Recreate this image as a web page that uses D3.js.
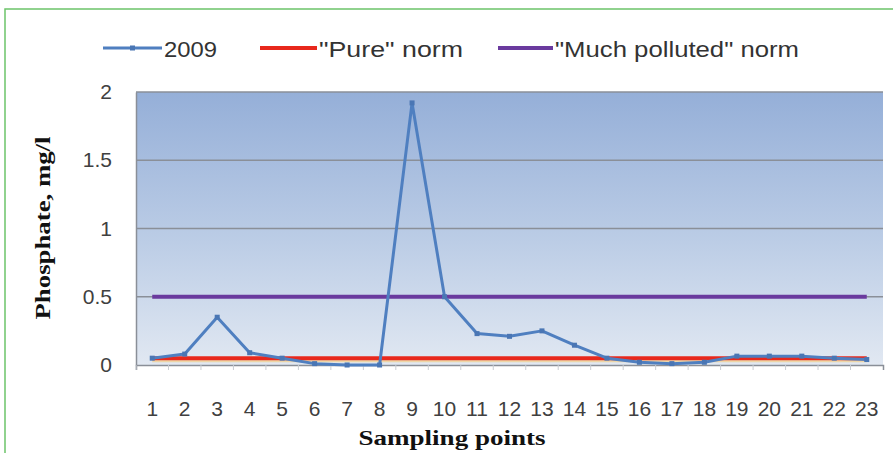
<!DOCTYPE html>
<html><head><meta charset="utf-8">
<script src="https://cdn.jsdelivr.net/npm/d3@7"></script>
<style>body{margin:0;background:#fff}svg{display:block}</style>
</head><body>
<svg id="c" width="893" height="453"></svg>
<script>
const categories = ["1","2","3","4","5","6","7","8","9","10","11","12","13","14","15","16","17","18","19","20","21","22","23"];
const values2009 = [0.05,0.08,0.35,0.09,0.05,0.01,0.0,0.0,1.92,0.5,0.23,0.21,0.25,0.145,0.05,0.02,0.01,0.02,0.065,0.065,0.065,0.05,0.04];
const pureNorm = 0.05;
const pollutedNorm = 0.5;
const yTicks = [0,0.5,1,1.5,2];
const yTickLabels = ["0","0.5","1","1.5","2"];
const seriesNames = ["2009","\"Pure\" norm","\"Much polluted\" norm"];
const seriesColors = ["#4f7fc0","#e8281c","#6a3a9e"];

const svg = d3.select("#c");
const L = 136, R = 883, T = 92, B = 365;
const x = d3.scaleBand().domain(categories).range([L,R]);
const y = d3.scaleLinear().domain([0,2]).range([B,T]);
const cx = c => x(c) + x.bandwidth()/2;
const sans = "'Liberation Sans',Arial,sans-serif";
const serif = "'Liberation Serif','DejaVu Serif',serif";

// outer green frame
svg.append("rect").attr("x",5).attr("y",9).attr("width",900).attr("height",460)
  .attr("fill","none").attr("stroke","#6cc46a").attr("stroke-width",1.5);

// gradient background
const defs = svg.append("defs");
const g = defs.append("linearGradient").attr("id","bg").attr("x1",0).attr("y1",0).attr("x2",0).attr("y2",1);
g.append("stop").attr("offset","0%").attr("stop-color","#95afd8");
g.append("stop").attr("offset","55%").attr("stop-color","#bccde6");
g.append("stop").attr("offset","100%").attr("stop-color","#e1e8f2");
svg.append("rect").attr("x",L).attr("y",T).attr("width",R-L).attr("height",B-T).attr("fill","url(#bg)");

// grid
svg.append("g").selectAll("line").data(yTicks.filter(d=>d>0)).join("line")
  .attr("x1",L).attr("x2",R).attr("y1",d=>y(d)).attr("y2",d=>y(d))
  .attr("stroke","#8a8f98").attr("stroke-width",1.3);

// axes
const ya = svg.append("g").attr("transform",`translate(${L},0)`)
  .call(d3.axisLeft(y).tickValues(yTicks).tickFormat((d,i)=>yTickLabels[i]).tickSize(0).tickPadding(24));
ya.select(".domain").attr("stroke","#8a8f98").attr("stroke-width",1.5);
ya.selectAll("text").attr("font-family",sans).attr("font-size",21).attr("fill","#404040");

const xa = svg.append("g").attr("transform",`translate(0,${B})`)
  .call(d3.axisBottom(x).tickSize(5).tickPadding(31));
xa.select(".domain").attr("stroke","#8a8f98").attr("stroke-width",1.5);
xa.selectAll(".tick line").attr("stroke","#c8ccd2").attr("transform",`translate(${-x.bandwidth()/2},0)`);
xa.selectAll("text").attr("font-family",sans).attr("font-size",21).attr("fill","#404040");

// norms
const first = cx(categories[0]), last = cx(categories[categories.length-1]);
svg.append("line").attr("x1",first).attr("x2",last).attr("y1",y(pollutedNorm)).attr("y2",y(pollutedNorm))
  .attr("stroke",seriesColors[2]).attr("stroke-width",4);
svg.append("line").attr("x1",first).attr("x2",last).attr("y1",y(pureNorm)+1.5).attr("y2",y(pureNorm)+1.5)
  .attr("stroke","#f4d08a").attr("stroke-width",5).attr("opacity",0.7);
svg.append("line").attr("x1",first).attr("x2",last).attr("y1",y(pureNorm)).attr("y2",y(pureNorm))
  .attr("stroke",seriesColors[1]).attr("stroke-width",4);

// 2009 series
const line = d3.line().x((d,i)=>cx(categories[i])).y(d=>y(d));
svg.append("path").datum(values2009).attr("d",line).attr("fill","none")
  .attr("stroke",seriesColors[0]).attr("stroke-width",3).attr("stroke-linejoin","round");
svg.append("g").selectAll("rect").data(values2009).join("rect")
  .attr("x",(d,i)=>cx(categories[i])-2.5).attr("y",d=>y(d)-2.5).attr("width",5).attr("height",5)
  .attr("fill","#4a76b4");

// axis titles
svg.append("text").attr("x",452).attr("y",445).attr("text-anchor","middle")
  .attr("font-family",serif).attr("font-weight","bold").attr("font-size",20)
  .attr("textLength",187).attr("lengthAdjust","spacingAndGlyphs").attr("fill","#111").text("Sampling points");
svg.append("text").attr("transform","translate(50,228) rotate(-90)").attr("text-anchor","middle")
  .attr("font-family",serif).attr("font-weight","bold").attr("font-size",20)
  .attr("textLength",183).attr("lengthAdjust","spacingAndGlyphs").attr("fill","#111").text("Phosphate, mg/l");

// legend
const legX = [103,260,498];
const legW = [59,57,55];
const legTextLen = [53,144,244];
const lg = svg.append("g");
seriesNames.forEach((n,i)=>{
  lg.append("line").attr("x1",legX[i]).attr("x2",legX[i]+legW[i]).attr("y1",48).attr("y2",48)
    .attr("stroke",seriesColors[i]).attr("stroke-width",i===0?3:4);
  if(i===0) lg.append("rect").attr("x",legX[i]+27).attr("y",45.5).attr("width",5).attr("height",5).attr("fill","#4a76b4");
  lg.append("text").attr("x",legX[i]+legW[i]+2).attr("y",57).attr("font-family",sans).attr("font-size",22)
    .attr("textLength",legTextLen[i]).attr("lengthAdjust","spacingAndGlyphs")
    .attr("fill","#333").text(n);
});
</script>
</body></html>
